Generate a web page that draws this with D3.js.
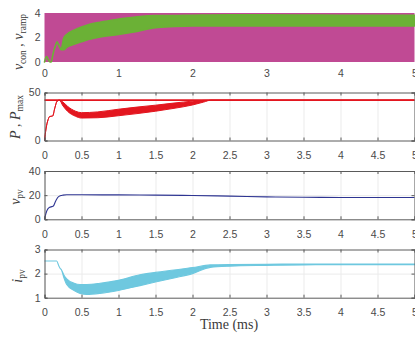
<!DOCTYPE html>
<html>
<head>
<meta charset="utf-8">
<script src="https://cdn.jsdelivr.net/npm/d3@7"></script>
<style>
  html, body { margin: 0; padding: 0; background: #fff; }
  svg { display: block; }
  .tick text { font-family: "Liberation Sans", Arial, sans-serif; font-size: 10.5px; fill: #4a4a4a; }
  .math { font-family: "Liberation Serif", "DejaVu Serif", serif; fill: #3a3a3a; }
</style>
</head>
<body>
<svg id="chart" width="415" height="338"></svg>
<script>
// ---- time axis (ms) ----
const xTicksTop = [0, 1, 2, 3, 4, 5];
const xTicks = [0, 0.5, 1, 1.5, 2, 2.5, 3, 3.5, 4, 4.5, 5];

// ---- panel 1: control voltage vs. PWM ramp carrier ----
const rampTime = [0, 5];
const rampLow = [0, 0];
const rampHigh = [4, 4];
const vconTime = [0, 0.015, 0.03, 0.05, 0.07, 0.09, 0.11, 0.13, 0.15, 0.17, 0.19, 0.225, 0.26, 0.3, 0.4, 0.5, 0.6, 0.75, 1.0, 1.25, 1.5, 1.75, 2.0, 2.5, 3.0, 3.5, 4.0, 4.5, 5.0];
const vconHigh = [0, 0.3, 0.45, 0.2, 0.02, 0.0, 0.5, 1.0, 1.35, 1.65, 1.4, 1.05, 1.95, 2.25, 2.6, 2.85, 3.05, 3.25, 3.5, 3.7, 3.8, 3.8, 3.82, 3.85, 3.85, 3.83, 3.82, 3.82, 3.82];
const vconLow  = [0, 0.3, 0.45, 0.2, 0.02, 0.0, 0.5, 1.0, 1.35, 1.65, 1.4, 1.0, 1.0, 1.2, 1.45, 1.65, 1.85, 2.05, 2.25, 2.5, 2.8, 2.9, 2.95, 2.95, 2.95, 2.95, 2.95, 2.95, 2.95];
const yTicks1 = [0, 2, 4];

// ---- panel 2: PV power and maximum available power ----
const pTime = [0, 0.02, 0.05, 0.07, 0.11, 0.14, 0.17, 0.2, 0.25, 0.31, 0.42, 0.5, 0.72, 1.0, 1.25, 1.5, 1.75, 2.0, 2.15, 2.25, 3.0, 4.0, 5.0];
const pHigh = [0, 12, 22, 25, 25.5, 34, 41, 42, 40, 35.7, 30.5, 29, 29.8, 32.6, 34.8, 36.8, 39, 41, 41.8, 42, 42, 42, 42];
const pLow  = [0, 12, 22, 25, 25.5, 34, 41, 42, 36, 30.5, 25.2, 23.4, 23.7, 25.8, 28, 30.5, 33.5, 37, 40, 42, 42, 42, 42];
const pmaxTime = [0, 5];
const pmax = [42, 42];
const yTicks2 = [0, 50];

// ---- panel 3: PV voltage ----
const vpvTime = [0, 0.02, 0.05, 0.07, 0.1, 0.12, 0.15, 0.19, 0.25, 0.3, 0.5, 1.0, 1.5, 2.0, 2.5, 3.0, 3.5, 4.0, 4.5, 5.0];
const vpv = [0, 5, 9, 10, 10.5, 11, 15, 18.8, 20, 20.3, 20.3, 20.2, 20, 19.7, 19.2, 18.6, 18.2, 18.1, 18, 18];
const yTicks3 = [0, 20, 40];

// ---- panel 4: PV current ----
const ipvTime = [0, 0.1, 0.165, 0.19, 0.21, 0.23, 0.26, 0.3, 0.4, 0.48, 0.57, 0.75, 1.0, 1.29, 1.5, 1.75, 2.0, 2.24, 2.5, 3.0, 3.5, 4.0, 4.5, 5.0];
const ipvHigh = [2.52, 2.52, 2.52, 2.35, 2.22, 2.15, 1.95, 1.78, 1.6, 1.55, 1.55, 1.6, 1.72, 1.95, 2.05, 2.15, 2.25, 2.36, 2.38, 2.39, 2.4, 2.4, 2.4, 2.4];
const ipvLow  = [2.52, 2.52, 2.52, 2.35, 2.22, 2.15, 1.85, 1.55, 1.3, 1.18, 1.14, 1.18, 1.3, 1.5, 1.65, 1.82, 2.0, 2.26, 2.31, 2.34, 2.36, 2.37, 2.37, 2.37];
const yTicks4 = [1, 2, 3];

const colors = {
  ramp: "#C04A94",
  vcon: "#6BB136",
  power: "#E3161F",
  vpv: "#2E3592",
  ipv: "#6EC8DF",
  axis: "#5a5a5a",
  grid: "#ebebeb"
};

const svg = d3.select("#chart");
const x = d3.scaleLinear().domain([0, 5]).range([44.5, 414.5]);

const fmt = d => String(d);

function zip(t, a, b) {
  return t.map((v, i) => ({ t: v, lo: a[i], hi: b ? b[i] : a[i] }));
}

function styleAxis(s) {
  s.selectAll(".domain, .tick line").attr("stroke", colors.axis);
}

function panel(opts) {
  const y = d3.scaleLinear().domain(opts.domain).range([opts.bottom, opts.top]);
  const g = svg.append("g");
  const h = opts.bottom - opts.top;

  if (opts.box) {
    // light grid behind the traces
    g.append("g").attr("transform", `translate(0,${opts.bottom})`)
      .call(d3.axisBottom(x).tickValues(opts.xticks).tickSize(-h).tickFormat(""))
      .call(s => s.select(".domain").remove())
      .call(s => s.selectAll("line").attr("stroke", colors.grid).attr("stroke-width", 1));
    if (opts.ygrid) {
      g.append("g").attr("transform", `translate(${x(0)},0)`)
        .call(d3.axisLeft(y).tickValues(opts.ygrid).tickSize(-(x(5) - x(0))).tickFormat(""))
        .call(s => s.select(".domain").remove())
        .call(s => s.selectAll("line").attr("stroke", colors.grid).attr("stroke-width", 1));
    }
  }

  const marks = g.append("g");
  opts.draw(marks, y);

  const bx = g.append("g").attr("transform", `translate(0,${opts.bottom})`)
    .call(d3.axisBottom(x).tickValues(opts.xticks).tickSize(opts.box ? -3 : 0).tickPadding(opts.box ? 11 : 8).tickFormat(fmt));
  bx.selectAll("text").attr("dy", "0.71em");
  const ly = g.append("g").attr("transform", `translate(${x(0)},0)`)
    .call(d3.axisLeft(y).tickValues(opts.yticks).tickSize(opts.box ? -3 : 0).tickPadding(4).tickFormat(fmt));

  if (opts.box) {
    const tx = g.append("g").attr("transform", `translate(0,${opts.top})`)
      .call(d3.axisTop(x).tickValues(opts.xticks).tickSize(-3).tickFormat(""));
    const ry = g.append("g").attr("transform", `translate(${x(5)},0)`)
      .call(d3.axisRight(y).tickValues(opts.yticks).tickSize(-3).tickFormat(""));
    [bx, ly, tx, ry].forEach(styleAxis);
  } else {
    bx.select(".domain").remove();
    ly.select(".domain").remove();
  }

  // y title (math-style label)
  const tt = g.append("text").attr("class", "math")
    .attr("transform", `translate(${opts.titleX},${opts.titleY}) rotate(-90)`)
    .attr("text-anchor", "middle")
    .attr("font-size", 14);
  opts.title.forEach(part => {
    const ts = tt.append("tspan").text(part.s);
    if (part.italic) ts.attr("font-style", "italic");
    if (part.sub) ts.attr("font-size", 9.5).attr("baseline-shift", "-3");
  });
  return y;
}

// Panel 1
panel({
  top: 13, bottom: 62, domain: [0, 4], xticks: xTicksTop, yticks: yTicks1, box: false,
  titleX: 23, titleY: 42,
  title: [{ s: "v", italic: true }, { s: "con", sub: true }, { s: " , " }, { s: "v", italic: true }, { s: "ramp", sub: true }],
  draw: (g, y) => {
    g.append("path").datum(zip(rampTime, rampLow, rampHigh))
      .attr("fill", colors.ramp)
      .attr("d", d3.area().x(d => x(d.t)).y0(d => y(d.lo)).y1(d => y(d.hi)));
    g.append("path").datum(zip(vconTime, vconLow, vconHigh))
      .attr("fill", colors.vcon).attr("stroke", colors.vcon).attr("stroke-width", 1.6)
      .attr("stroke-linejoin", "round")
      .attr("d", d3.area().curve(d3.curveMonotoneX).x(d => x(d.t)).y0(d => y(d.lo)).y1(d => y(d.hi)));
  }
});

// Panel 2
panel({
  top: 92.5, bottom: 140.5, domain: [0, 50], xticks: xTicks, yticks: yTicks2, box: true,
  titleX: 20, titleY: 117,
  title: [{ s: "P", italic: true }, { s: " , " }, { s: "P", italic: true }, { s: "max", sub: true }],
  draw: (g, y) => {
    g.append("path").datum(zip(pTime, pLow, pHigh))
      .attr("fill", colors.power).attr("stroke", colors.power).attr("stroke-width", 1)
      .attr("d", d3.area().curve(d3.curveMonotoneX).x(d => x(d.t)).y0(d => y(d.lo)).y1(d => y(d.hi)));
    g.append("path").datum(zip(pmaxTime, pmax))
      .attr("fill", "none").attr("stroke", colors.power).attr("stroke-width", 1.8)
      .attr("d", d3.line().x(d => x(d.t)).y(d => y(d.lo)));
  }
});

// Panel 3
panel({
  top: 171, bottom: 219.3, domain: [0, 40], xticks: xTicks, yticks: yTicks3, ygrid: [20], box: true,
  titleX: 20, titleY: 197,
  title: [{ s: "v", italic: true }, { s: "pv", sub: true }],
  draw: (g, y) => {
    g.append("path").datum(zip(vpvTime, vpv))
      .attr("fill", "none").attr("stroke", colors.vpv).attr("stroke-width", 1.1)
      .attr("d", d3.line().curve(d3.curveMonotoneX).x(d => x(d.t)).y(d => y(d.lo)));
  }
});

// Panel 4
panel({
  top: 249.5, bottom: 297.7, domain: [1, 3], xticks: xTicks, yticks: yTicks4, ygrid: [2], box: true,
  titleX: 22, titleY: 276,
  title: [{ s: "i", italic: true }, { s: "pv", sub: true }],
  draw: (g, y) => {
    g.append("path").datum(zip(ipvTime, ipvLow, ipvHigh))
      .attr("fill", colors.ipv).attr("stroke", colors.ipv).attr("stroke-width", 1.1)
      .attr("d", d3.area().curve(d3.curveMonotoneX).x(d => x(d.t)).y0(d => y(d.lo)).y1(d => y(d.hi)));
  }
});

svg.append("text").attr("class", "math")
  .attr("x", 229).attr("y", 329).attr("text-anchor", "middle")
  .attr("font-size", 14)
  .text("Time (ms)");
</script>
</body>
</html>
